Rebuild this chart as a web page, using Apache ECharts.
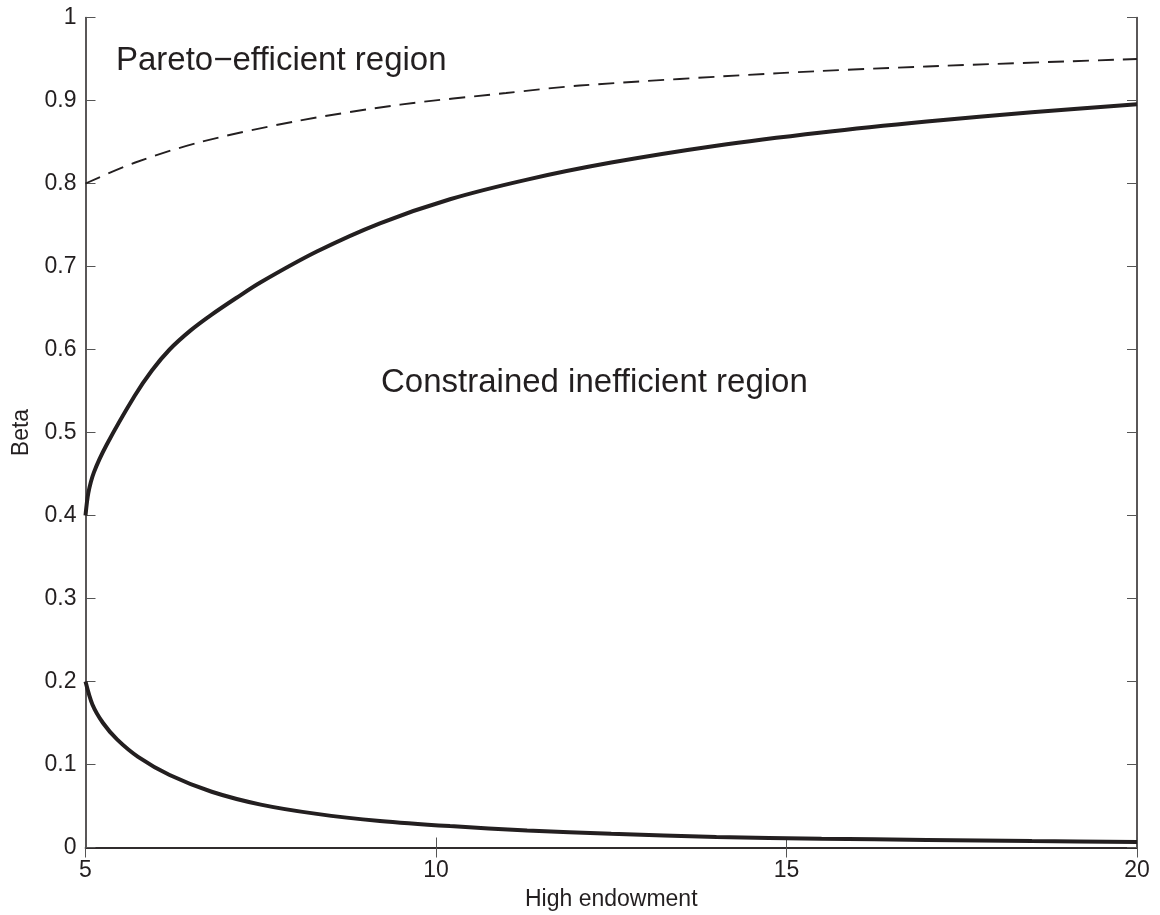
<!DOCTYPE html>
<html>
<head>
<meta charset="utf-8">
<script src="https://cdn.jsdelivr.net/npm/echarts@6/dist/echarts.min.js"></script>
<style>
html,body{margin:0;padding:0;background:#fff;}
#chart{width:1160px;height:915px;}
</style>
</head>
<body>
<div id="chart"></div>
<script>
// Upper solid boundary
const upperX = [5, 5.04, 5.12, 5.3, 5.7, 5.95, 6.2, 6.5, 6.8, 7.15, 7.5, 8.3, 9.2, 10.2, 11.3, 12.5, 14, 15.5, 17, 18.5, 20];
const upperY = [0.4, 0.427, 0.452, 0.485, 0.544, 0.575, 0.6, 0.623, 0.642, 0.662, 0.681, 0.718, 0.752, 0.781, 0.8047, 0.8252, 0.8455, 0.8614, 0.8746, 0.8859, 0.8955];
// Lower solid boundary
const lowerX = [5, 5.1, 5.25, 5.45, 5.75, 6.2, 6.8, 7.5, 8.3, 9.2, 10.2, 11.3, 12.5, 14, 15.5, 17, 18.5, 20];
const lowerY = [0.2, 0.172, 0.15, 0.1302, 0.1092, 0.0873, 0.0672, 0.0517, 0.0405, 0.032, 0.0258, 0.0205, 0.0165, 0.0128, 0.0106, 0.0091, 0.0077, 0.0065];
// Dashed Pareto boundary
const dashX = [5, 5.7, 6.64, 8, 9.49, 11, 12.05, 14.9, 17, 20];
const dashY = [0.8, 0.825, 0.85, 0.875, 0.895, 0.909, 0.918, 0.933, 0.941, 0.95];

const xTicks = [5, 10, 15, 20];
const yTicks = [0, 0.1, 0.2, 0.3, 0.4, 0.5, 0.6, 0.7, 0.8, 0.9, 1];
const xName = 'High endowment';
const yName = 'Beta';
const regionLabels = ['Pareto\u2212efficient region', 'Constrained inefficient region'];

const zip = (xs, ys) => xs.map((x, i) => [x, ys[i]]);
const ink = '#231f20';
const font = 'Liberation Sans, Arial, Helvetica, sans-serif';

const chart = echarts.init(document.getElementById('chart'), null, {renderer: 'canvas'});
const axisCommon = {
  type: 'value',
  axisLine: {show: true, lineStyle: {color: ink, width: 1.5}},
  axisTick: {show: true, inside: true, length: 10, lineStyle: {color: '#555', width: 1}},
  splitLine: {show: false}
};
chart.setOption({
  animation: false,
  backgroundColor: '#fff',
  grid: {left: 85.5, right: 23, top: 17.5, bottom: 67.5, containLabel: false, outerBoundsMode: 'none'},
  xAxis: [
    Object.assign({}, axisCommon, {
      min: xTicks[0], max: xTicks[xTicks.length - 1], interval: 5, position: 'bottom',
      name: xName, nameLocation: 'middle', nameGap: 41,
      nameTextStyle: {fontFamily: font, fontSize: 23, color: ink},
      axisLabel: {margin: 12, fontFamily: font, fontSize: 23, color: ink}
    }),
    Object.assign({}, axisCommon, {
      min: xTicks[0], max: xTicks[xTicks.length - 1], interval: 5, position: 'top',
      axisLabel: {show: false}
    })
  ],
  yAxis: [
    Object.assign({}, axisCommon, {
      min: yTicks[0], max: yTicks[yTicks.length - 1], interval: 0.1, position: 'left',
      name: yName, nameLocation: 'middle', nameGap: 51, nameRotate: 90,
      nameTextStyle: {fontFamily: font, fontSize: 23, color: ink},
      axisLabel: {margin: 9, fontFamily: font, fontSize: 23, color: ink,
        formatter: v => String(Math.round(v * 10) / 10)}
    }),
    Object.assign({}, axisCommon, {
      min: yTicks[0], max: yTicks[yTicks.length - 1], interval: 0.1, position: 'right',
      axisLabel: {show: false}
    })
  ],
  series: [
    {type: 'line', data: zip(upperX, upperY), smooth: 0.3, showSymbol: false,
      lineStyle: {color: ink, width: 4}},
    {type: 'line', data: zip(lowerX, lowerY), smooth: 0.3, showSymbol: false,
      lineStyle: {color: ink, width: 4}},
    {type: 'line', data: zip(dashX, dashY), smooth: 0.3, showSymbol: false,
      lineStyle: {color: ink, width: 1.9, type: [16, 9]}}
  ],
  graphic: [
    {type: 'text', left: 116, top: 44,
      style: {text: regionLabels[0], font: '33px ' + font, fill: ink}},
    {type: 'text', left: 381, top: 366,
      style: {text: regionLabels[1], font: '33px ' + font, fill: ink}}
  ]
});
</script>
</body>
</html>
